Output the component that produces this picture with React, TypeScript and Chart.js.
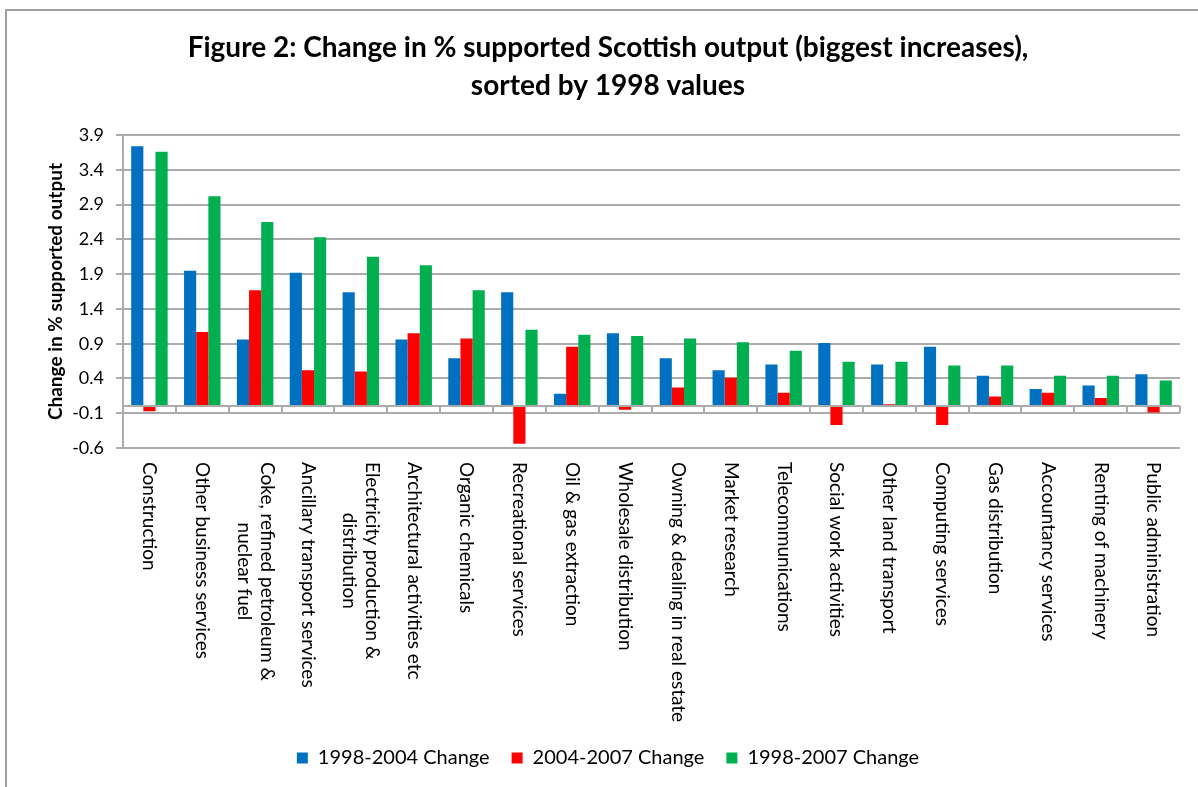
import React, { useEffect, useRef } from "react";
import { Chart, registerables } from "chart.js";

Chart.register(...registerables);

const FONT = "Lato, 'Open Sans', sans-serif";

const titleLines = [
  "Figure 2: Change in % supported Scottish output (biggest increases),",
  "sorted by 1998 values",
];

const yAxisTitle = "Change in % supported output";

const categories: string[][] = [
  ["Construction"],
  ["Other business services"],
  ["Coke, refined petroleum &", "nuclear fuel"],
  ["Ancillary transport services"],
  ["Electricity production &", "distribution"],
  ["Architectural activities etc"],
  ["Organic chemicals"],
  ["Recreational services"],
  ["Oil & gas extraction"],
  ["Wholesale distribution"],
  ["Owning & dealing in real estate"],
  ["Market research"],
  ["Telecommunications"],
  ["Social work activities"],
  ["Other land transport"],
  ["Computing services"],
  ["Gas distribution"],
  ["Accountancy services"],
  ["Renting of machinery"],
  ["Public administration"],
];

const change1998to2004 = [3.74, 1.95, 0.96, 1.92, 1.64, 0.96, 0.69, 1.64, 0.18, 1.05, 0.69, 0.52, 0.6, 0.91, 0.6, 0.855, 0.44, 0.25, 0.3, 0.46];
const change2004to2007 = [-0.07, 1.07, 1.67, 0.52, 0.5, 1.05, 0.975, -0.54, 0.855, -0.05, 0.27, 0.41, 0.195, -0.27, 0.03, -0.27, 0.14, 0.195, 0.12, -0.09];
const change1998to2007 = [3.66, 3.02, 2.65, 2.43, 2.15, 2.03, 1.67, 1.1, 1.03, 1.01, 0.975, 0.92, 0.8, 0.64, 0.64, 0.585, 0.585, 0.44, 0.44, 0.37];

const seriesNames = ["1998-2004 Change", "2004-2007 Change", "1998-2007 Change"];
const seriesColors = ["#0070C0", "#FF0000", "#00B050"];

const yTicks = [-0.6, -0.1, 0.4, 0.9, 1.4, 1.9, 2.4, 2.9, 3.4, 3.9];

const GRID = "#ababab";

const zeroAxisPlugin = {
  id: "zeroAxis",
  afterDatasetsDraw(chart: any) {
    const { ctx, chartArea } = chart;
    const x = chart.scales.x;
    const y = chart.scales.y;
    const y0 = Math.round(y.getPixelForValue(0));
    ctx.save();
    ctx.strokeStyle = GRID;
    ctx.lineWidth = 2;
    ctx.beginPath();
    ctx.moveTo(chartArea.left, y0);
    ctx.lineTo(chartArea.right, y0);
    const n = categories.length;
    const w = (x.right - x.left) / n;
    for (let i = 0; i <= n; i++) {
      const px = Math.round(x.left + i * w);
      ctx.moveTo(px, y0);
      ctx.lineTo(px, y0 + 7);
    }
    ctx.stroke();
    ctx.restore();
  },
  afterDraw(chart: any) {
    const { ctx } = chart;
    const x = chart.scales.x;
    const top = chart.chartArea.bottom + 14;
    const lh = 23;
    ctx.save();
    ctx.font = `19px ${FONT}`;
    ctx.fillStyle = "#000";
    ctx.textBaseline = "middle";
    ctx.textAlign = "center";
    categories.forEach((lines, i) => {
      const px = x.getPixelForValue(i);
      const maxW = Math.max(...lines.map((l) => ctx.measureText(l).width));
      ctx.save();
      ctx.translate(px, top);
      ctx.rotate(Math.PI / 2);
      lines.forEach((line, k) => {
        ctx.fillText(line, maxW / 2, (k - (lines.length - 1) / 2) * lh);
      });
      ctx.restore();
    });
    ctx.restore();
  },
};

export default function App() {
  const canvasRef = useRef<HTMLCanvasElement | null>(null);

  useEffect(() => {
    const canvas = canvasRef.current;
    if (!canvas) return;
    const chart = new Chart(canvas, {
      type: "bar",
      data: {
        labels: categories.map((c) => c.join(" ")),
        datasets: [change1998to2004, change2004to2007, change1998to2007].map((d, i) => ({
          label: seriesNames[i],
          data: d,
          backgroundColor: seriesColors[i],
          borderWidth: 0,
          categoryPercentage: 0.69,
          barPercentage: 1.0,
        })),
      },
      options: {
        animation: false,
        responsive: false,
        maintainAspectRatio: false,
        layout: { padding: { top: 19, left: 36, right: 18, bottom: 9 } },
        plugins: {
          title: {
            display: true,
            text: titleLines,
            color: "#000",
            font: { family: FONT, size: 28, weight: "bold", lineHeight: 1.36 },
            padding: { top: 10, bottom: 30 },
          },
          legend: {
            position: "bottom",
            labels: {
              boxWidth: 11,
              boxHeight: 11,
              padding: 22,
              color: "#000",
              font: { family: FONT, size: 20 },
            },
          },
          tooltip: { enabled: false },
        },
        scales: {
          x: {
            grid: { display: false },
            border: { display: false },
            ticks: { display: false },
            afterFit: (s: any) => {
              s.height = 278;
            },
          },
          y: {
            min: -0.6,
            max: 3.9,
            afterBuildTicks: (s: any) => {
              s.ticks = yTicks.map((v) => ({ value: v }));
            },
            ticks: {
              callback: (v: any) => Number(v).toFixed(1),
              color: "#000",
              font: { family: FONT, size: 18 },
              padding: 12,
            },
            grid: { color: GRID, lineWidth: 2, tickLength: 7 },
            border: { color: GRID, width: 2 },
            title: {
              display: true,
              text: yAxisTitle,
              color: "#000",
              font: { family: FONT, size: 19, weight: "bold" },
              padding: { top: 8, bottom: 4 },
            },
            afterFit: (s: any) => {
              s.width = 87;
            },
          },
        },
      },
      plugins: [zeroAxisPlugin],
    });
    return () => chart.destroy();
  }, []);

  return (
    <div
      style={{
        position: "absolute",
        left: 0,
        top: 0,
        width: 1198,
        height: 787,
        overflow: "hidden",
        background: "#fff",
      }}
    >
      <div
        style={{
          position: "absolute",
          left: 5,
          top: 9,
          width: 1400,
          height: 1000,
          border: "2px solid #a0a0a0",
        }}
      />
      <canvas
        ref={canvasRef}
        width={1198}
        height={787}
        style={{ position: "absolute", left: 0, top: 0, width: 1198, height: 787 }}
      />
    </div>
  );
}
